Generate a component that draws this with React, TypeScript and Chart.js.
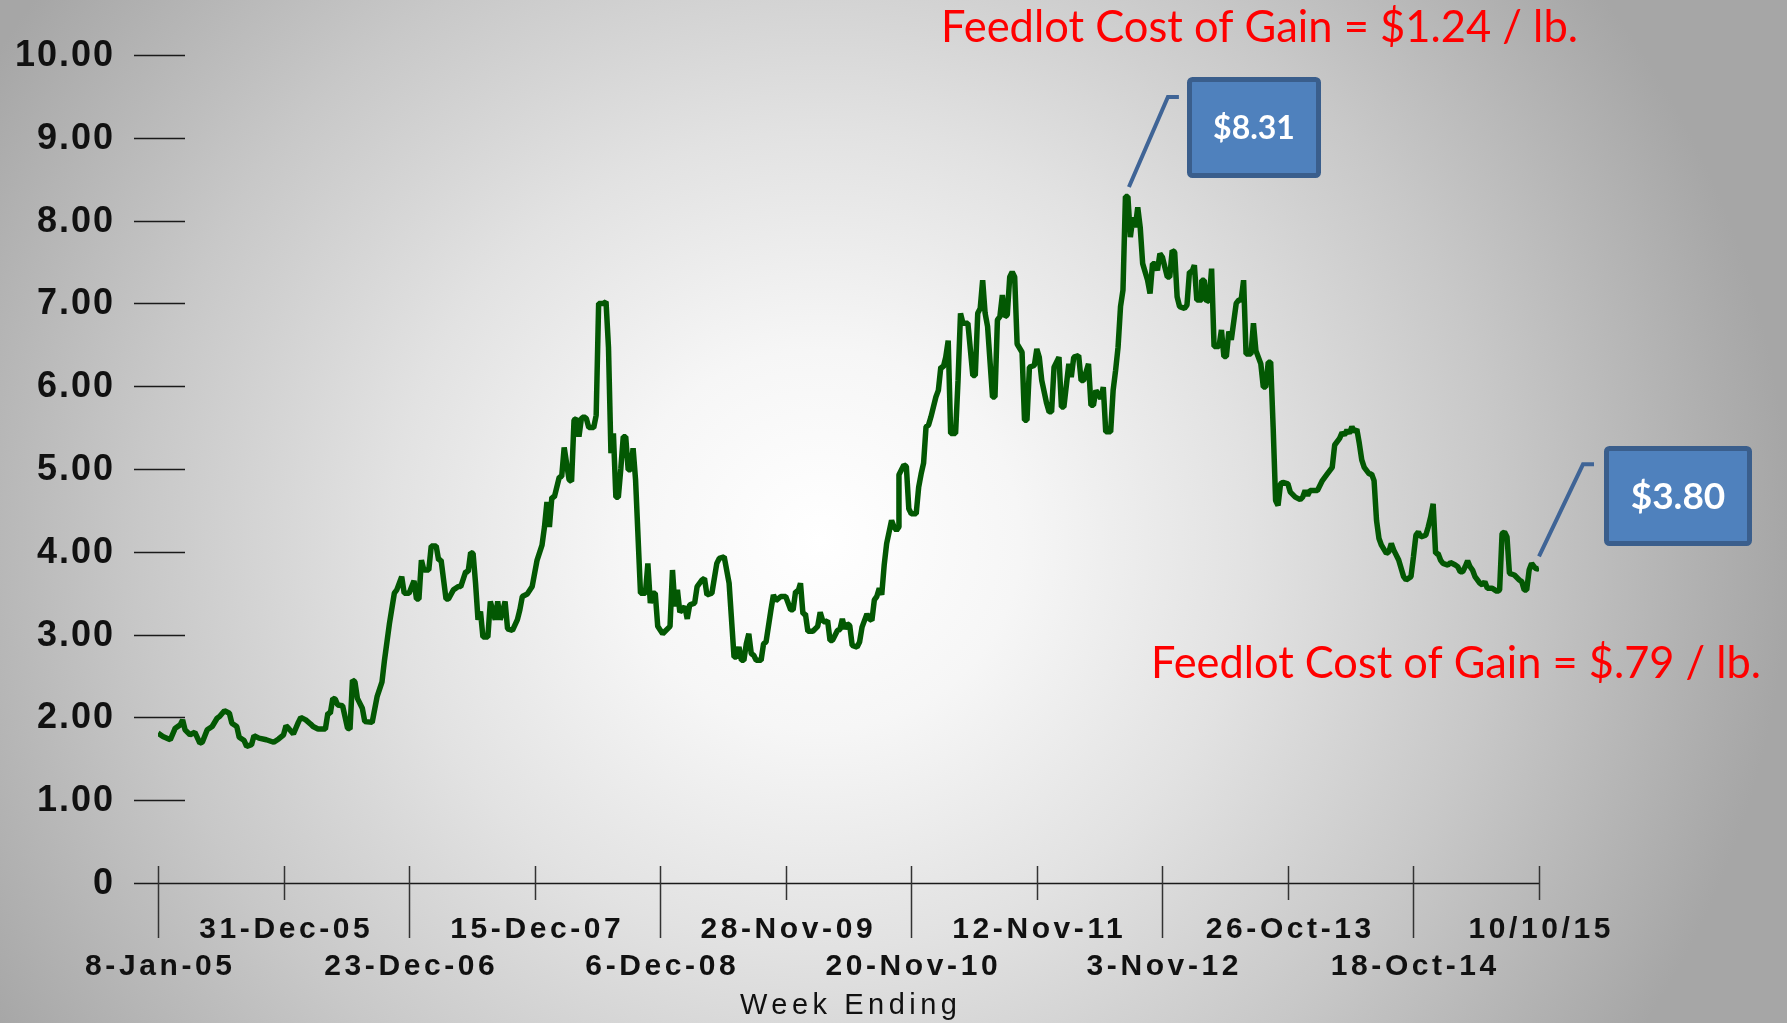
import React, { useEffect, useRef } from "react";
import { Chart, registerables } from "chart.js";

Chart.register(...registerables);

// ---- data (week index from 8-Jan-05, value in $) ----
const weekIndex = [
  0, 2, 5, 7, 9, 10, 11, 13, 15, 17, 18, 20, 22, 24, 25, 27, 29, 30, 32, 33, 35, 36, 38, 39, 41, 44, 47, 49,
  51, 52, 53, 55, 57, 58, 60, 62, 63, 65, 68, 69, 70, 71, 72, 73, 75, 77, 78, 79, 80, 81, 83, 84, 87, 89, 91,
  92, 94, 96, 97, 99, 100, 102, 104, 105, 106, 107, 108, 110, 111, 113, 114, 115, 117, 118, 120, 122, 123, 125,
  126, 127, 128, 129, 130, 131, 132, 134, 135, 137, 138, 139, 140, 141, 142, 144, 146, 147, 148, 150, 152, 154,
  156, 157, 158, 159, 160, 161, 163, 164, 165, 167, 168, 169, 170, 171, 172, 173, 174, 175, 177, 178, 179, 181,
  182, 183, 184, 185, 186, 187, 188, 189, 190, 191, 192, 193, 194, 196, 198, 199, 200, 201, 202, 203, 205, 206,
  208, 209, 210, 211, 212, 214, 215, 216, 218, 219, 221, 222, 223, 225, 227, 228, 230, 232, 234, 235, 236, 237,
  238, 239, 240, 241, 242, 243, 245, 246, 247, 249, 250, 251, 253, 255, 257, 258, 259, 260, 261, 262, 263, 264,
  266, 268, 269, 270, 271, 272, 273, 274, 276, 277, 278, 279, 280, 281, 282, 284, 285, 286, 288, 289, 290, 291,
  292, 293, 294, 295, 296, 298, 299, 300, 301, 301, 303, 304, 305, 306, 308, 309, 310, 311, 312, 313, 314, 316,
  317, 318, 319, 320, 321, 322, 324, 325, 326, 327, 329, 331, 332, 333, 334, 335, 336, 337, 339, 340, 341, 342,
  343, 344, 345, 346, 347, 348, 349, 351, 352, 353, 354, 356, 357, 358, 359, 361, 362, 363, 364, 366, 367, 368,
  370, 371, 372, 374, 375, 376, 378, 379, 380, 381, 383, 384, 385, 387, 388, 389, 390, 391, 392, 393, 394, 395,
  396, 397, 398, 399, 400, 402, 403, 404, 405, 406, 407, 408, 410, 411, 412, 413, 414, 415, 417, 418, 419, 420,
  421, 422, 424, 424, 425, 426, 427, 428, 429, 431, 432, 433, 434, 435, 436, 438, 439, 440, 441, 442, 444, 445,
  446, 448, 449, 450, 451, 452, 453, 454, 455, 456, 457, 459, 460, 462, 464, 465, 466, 467, 468, 471, 473, 475,
  477, 478, 480, 481, 482, 483, 484, 485, 486, 487, 488, 489, 490, 492, 493, 494, 495, 496, 497, 499, 500, 501,
  502, 504, 506, 507, 509, 510, 511, 512, 513, 515, 516, 517, 518, 519, 520, 521, 522, 524, 525, 527, 528, 529,
  530, 531, 532, 533, 534, 535, 537, 538, 539, 540, 542, 543, 544, 545, 546, 547, 548, 549, 551, 553, 554, 555,
  556, 557, 558, 559, 560, 561,
];

const price = [
  1.81, 1.77, 1.73, 1.87, 1.91, 1.97, 1.85, 1.79, 1.82, 1.69, 1.7, 1.85, 1.89, 1.99, 2.01, 2.08, 2.05, 1.93, 1.89,
  1.76, 1.72, 1.65, 1.67, 1.78, 1.75, 1.73, 1.7, 1.74,
  1.79, 1.9, 1.87, 1.8, 1.94, 2.0, 1.97, 1.92, 1.89, 1.86, 1.86, 2.05, 2.05, 2.23, 2.22, 2.15, 2.14, 1.87, 1.86,
  2.45, 2.43, 2.23, 2.11, 1.95, 1.94, 2.25, 2.43,
  2.69, 3.13, 3.5, 3.54, 3.7, 3.5, 3.5, 3.65, 3.43, 3.43, 3.9, 3.78, 3.78, 4.07, 4.07, 3.9, 3.9, 3.43, 3.43, 3.54,
  3.58, 3.58, 3.76,
  3.76, 3.99, 3.98, 3.62, 3.18, 3.28, 2.97, 2.97, 3.4, 3.18, 3.4, 3.18, 3.28, 3.4, 3.07, 3.05, 3.18, 3.3, 3.46,
  3.49, 3.58, 3.9,
  4.08, 4.3, 4.6, 4.3, 4.66, 4.66, 4.9, 4.91, 5.26, 4.87, 4.85, 5.59, 5.61, 5.39, 5.61, 5.63, 5.61, 5.5, 5.5, 5.65,
  7.0, 7.0,
  7.02, 6.47, 5.19, 5.43, 4.66, 4.66, 5.0, 5.39, 5.39, 4.99, 4.99, 5.25, 4.87, 3.5, 3.5, 3.86, 3.38, 3.5, 3.5, 3.1,
  3.01, 3.04,
  3.1, 3.78, 3.34, 3.54, 3.27, 3.34, 3.19, 3.36, 3.38, 3.58, 3.66, 3.68, 3.48, 3.5, 3.86, 3.92, 3.94, 3.62, 2.73,
  2.73, 2.85, 2.69,
  2.69, 2.89, 3.01, 2.77, 2.75, 2.69, 2.69, 2.89, 2.91, 3.3, 3.48, 3.41, 3.46, 3.46, 3.3, 3.3, 3.52, 3.52, 3.62,
  3.25, 3.25, 3.04,
  3.04, 3.1, 3.27, 3.17, 3.15, 3.17, 2.93, 2.93, 3.05, 3.06, 3.19, 3.07, 3.13, 3.11, 2.87, 2.85, 2.91, 3.09, 3.25,
  3.19, 3.17, 3.42,
  3.46, 3.56, 3.48, 3.84, 4.1, 4.38, 4.3, 4.26, 4.3, 4.93, 5.05, 5.03, 4.52, 4.46, 4.46, 4.78, 4.94, 5.07, 5.51,
  5.53, 5.63, 5.87,
  5.95, 6.23, 6.23, 6.35, 6.55, 5.43, 5.43, 6.07, 6.88, 6.76, 6.76, 6.13, 6.13, 6.88, 6.94, 7.28, 6.88, 6.72, 5.87,
  5.87, 6.8, 6.84,
  7.1, 6.84, 6.86, 7.32, 7.38, 7.32, 6.51, 6.41, 5.59, 5.59, 6.23, 6.25, 6.45, 6.35, 6.07, 5.79, 5.69, 5.69, 6.23,
  6.35, 5.75, 5.75,
  6.27, 6.11, 6.35, 6.37, 6.07, 6.07, 6.27, 5.77, 5.77, 5.95, 5.85, 5.99, 5.45, 5.45, 5.95, 6.19, 6.47, 6.96, 7.16,
  8.29, 8.29, 7.8,
  8.04, 7.92, 8.16, 7.92, 7.48, 7.28, 7.12, 7.48, 7.48, 7.4, 7.6, 7.56, 7.32, 7.32, 7.64, 7.62, 7.08, 6.96, 6.94,
  6.98, 7.38, 7.38,
  7.46, 7.04, 7.04, 7.28, 7.28, 7.02, 7.04, 7.42, 6.48, 6.48, 6.68, 6.36, 6.36, 6.66, 6.56, 7.0, 7.04, 7.04, 7.28,
  6.39, 6.39, 6.76,
  6.43, 6.27, 5.99, 5.99, 6.29, 6.29, 5.51, 4.62, 4.56, 4.82, 4.84, 4.82, 4.72, 4.66, 4.63, 4.66, 4.74, 4.68, 4.74,
  4.74, 4.86, 4.94,
  5.02, 5.29, 5.37, 5.44, 5.41, 5.47, 5.43, 5.51, 5.45, 5.48, 5.31, 5.11, 5.02, 4.94, 4.94, 4.86, 4.38, 4.16, 4.08,
  3.98, 4.0, 4.1,
  4.02, 3.9, 3.7, 3.66, 3.7, 3.94, 4.2, 4.24, 4.18, 4.2, 4.3, 4.42, 4.58, 3.98, 3.98, 3.9, 3.86, 3.84, 3.87, 3.84,
  3.82, 3.76,
  3.76, 3.82, 3.89, 3.82, 3.78, 3.7, 3.62, 3.6, 3.64, 3.56, 3.56, 3.54, 3.52, 3.54, 4.22, 4.24, 4.18, 3.74, 3.72,
  3.66, 3.64, 3.54,
  3.54, 3.78, 3.86, 3.82, 3.79, 3.8,
];

const yTickValues = [0, 1, 2, 3, 4, 5, 6, 7, 8, 9, 10];
const xTickWeeks = [0, 51, 102, 153, 204, 255, 306, 357, 408, 459, 510, 561];
const xTickLabels = [
  "8-Jan-05", "31-Dec-05", "23-Dec-06", "15-Dec-07", "6-Dec-08", "28-Nov-09",
  "20-Nov-10", "12-Nov-11", "3-Nov-12", "26-Oct-13", "18-Oct-14", "10/10/15",
];
const xTitle = "Week Ending";
const noteTop = "Feedlot Cost of Gain = $1.24 / lb.";
const noteBottom = "Feedlot Cost of Gain = $.79 / lb.";
const calloutHighLabel = "$8.31";
const calloutHighPoint = [394, 8.31];
const calloutLowLabel = "$3.80";
const calloutLowPoint = [561, 3.8];

function spacedText(ctx: CanvasRenderingContext2D, text: string, x: number, y: number, align: string, spacing: number) {
  ctx.save();
  (ctx as any).letterSpacing = spacing + "px";
  ctx.textAlign = "left";
  const w = ctx.measureText(text).width - spacing;
  let left = x;
  if (align === "center") left = x - w / 2;
  else if (align === "right") left = x - w;
  ctx.fillText(text, left, y);
  ctx.restore();
}

const decorPlugin = {
  id: "decor",
  beforeDatasetsDraw(chart: any) {
    const ctx: CanvasRenderingContext2D = chart.ctx;
    const xs = chart.scales.x;
    const ys = chart.scales.y;
    const area = chart.chartArea;
    ctx.save();
    // y tick marks + labels
    ctx.strokeStyle = "#1a1a1a";
    ctx.lineWidth = 1.4;
    ctx.fillStyle = "#111111";
    ctx.font = "bold 36px 'Liberation Sans', Arial, sans-serif";
    ctx.textBaseline = "middle";
    yTickValues.forEach((v) => {
      const py = Math.round(ys.getPixelForValue(v)) + 0.5;
      ctx.beginPath();
      if (v === 0) {
        ctx.moveTo(area.left - 24, py);
        ctx.lineTo(xs.getPixelForValue(xTickWeeks[xTickWeeks.length - 1]), py);
      } else {
        ctx.moveTo(area.left - 24, py);
        ctx.lineTo(area.left + 27, py);
      }
      ctx.stroke();
      spacedText(ctx, v === 0 ? "0" : v.toFixed(2), area.left - 45, py + 1, "right", 2);
    });
    // x ticks + labels
    ctx.strokeStyle = "#333333";
    ctx.lineWidth = 1.5;
    ctx.font = "bold 30px 'Liberation Sans', Arial, sans-serif";
    const base = ys.getPixelForValue(0);
    xTickWeeks.forEach((w, i) => {
      const px = Math.round(xs.getPixelForValue(w)) + 0.5;
      ctx.beginPath();
      ctx.moveTo(px, base - 17);
      ctx.lineTo(px, i % 2 === 0 ? base + 55 : base + 17);
      ctx.stroke();
      const ly = i % 2 === 0 ? base + 84 : base + 47;
      spacedText(ctx, xTickLabels[i], px, ly, "center", 3.6);
    });
    ctx.font = "29px 'Liberation Sans', Arial, sans-serif";
    spacedText(ctx, xTitle, (area.left + area.right) / 2, base + 123, "center", 4.5);
    ctx.restore();
  },
  afterDraw(chart: any) {
    const ctx: CanvasRenderingContext2D = chart.ctx;
    const xs = chart.scales.x;
    const ys = chart.scales.y;
    ctx.save();
    // red notes
    ctx.fillStyle = "#ff0000";
    ctx.font = "44px Lato, 'Open Sans', sans-serif";
    ctx.textBaseline = "alphabetic";
    ctx.textAlign = "left";
    ctx.fillText(noteTop, 941, 42, 637);
    ctx.fillText(noteBottom, 1151, 678, 610);

    const drawLeader = (sx: number, sy: number, dx: number, dy: number, hx: number) => {
      ctx.strokeStyle = "#3f6496";
      ctx.lineWidth = 4;
      ctx.lineCap = "butt";
      ctx.lineJoin = "miter";
      ctx.beginPath();
      ctx.moveTo(sx, sy);
      ctx.lineTo(sx + dx, sy + dy);
      ctx.lineTo(sx + dx + hx, sy + dy);
      ctx.stroke();
    };
    const drawBox = (x: number, y: number, w: number, h: number, label: string, size: number) => {
      ctx.beginPath();
      (ctx as any).roundRect(x, y, w, h, 3);
      ctx.fillStyle = "#4f81bd";
      ctx.fill();
      ctx.strokeStyle = "#3a5e8c";
      ctx.lineWidth = 5;
      ctx.stroke();
      ctx.fillStyle = "#ffffff";
      ctx.font = `bold ${size}px Lato, 'Open Sans', sans-serif`;
      ctx.textAlign = "center";
      ctx.textBaseline = "middle";
      ctx.fillText(label, x + w / 2, y + h / 2 + 1);
    };
    // high callout
    const hx = xs.getPixelForValue(calloutHighPoint[0]);
    const hy = ys.getPixelForValue(calloutHighPoint[1]);
    drawLeader(hx + 1, hy - 8, 39, -90, 11);
    drawBox(1189.5, 79.5, 129, 96, calloutHighLabel, 32);
    // low callout
    const lx = xs.getPixelForValue(calloutLowPoint[0]);
    const ly = ys.getPixelForValue(calloutLowPoint[1]);
    drawLeader(lx, ly - 12, 44, -92, 11);
    drawBox(1606.5, 448.5, 143, 95, calloutLowLabel, 37);
    ctx.restore();
  },
};

export default function App() {
  const canvasRef = useRef<HTMLCanvasElement | null>(null);

  useEffect(() => {
    document.body.style.margin = "0";
    const canvas = canvasRef.current;
    if (!canvas) return;
    const chart = new Chart(canvas, {
      type: "line",
      data: {
        datasets: [
          {
            data: weekIndex.map((w, i) => ({ x: w, y: price[i] })),
            borderColor: "#035803",
            borderWidth: 5.5,
            pointRadius: 0,
            tension: 0,
            borderJoinStyle: "bevel",
            fill: false,
          },
        ],
      },
      options: {
        animation: false,
        responsive: false,
        devicePixelRatio: 1,
        layout: { padding: { left: 158, right: 248, top: 55, bottom: 140 } },
        plugins: { legend: { display: false }, tooltip: { enabled: false } },
        scales: {
          x: { type: "linear", min: 0, max: 561, display: false },
          y: { type: "linear", min: 0, max: 10, display: false },
        },
      },
      plugins: [decorPlugin],
    } as any);
    return () => chart.destroy();
  }, []);

  return (
    <div
      style={{
        position: "fixed",
        left: 0,
        top: 0,
        width: 1787,
        height: 1023,
        background:
          "radial-gradient(1000px 950px at 820px 540px, #ffffff 0%, #f6f6f6 20%, #e2e2e2 43%, #c8c8c8 68%, #a6a6a6 97%)",
      }}
    >
      <canvas ref={canvasRef} width={1787} height={1023} style={{ display: "block" }} />
    </div>
  );
}
